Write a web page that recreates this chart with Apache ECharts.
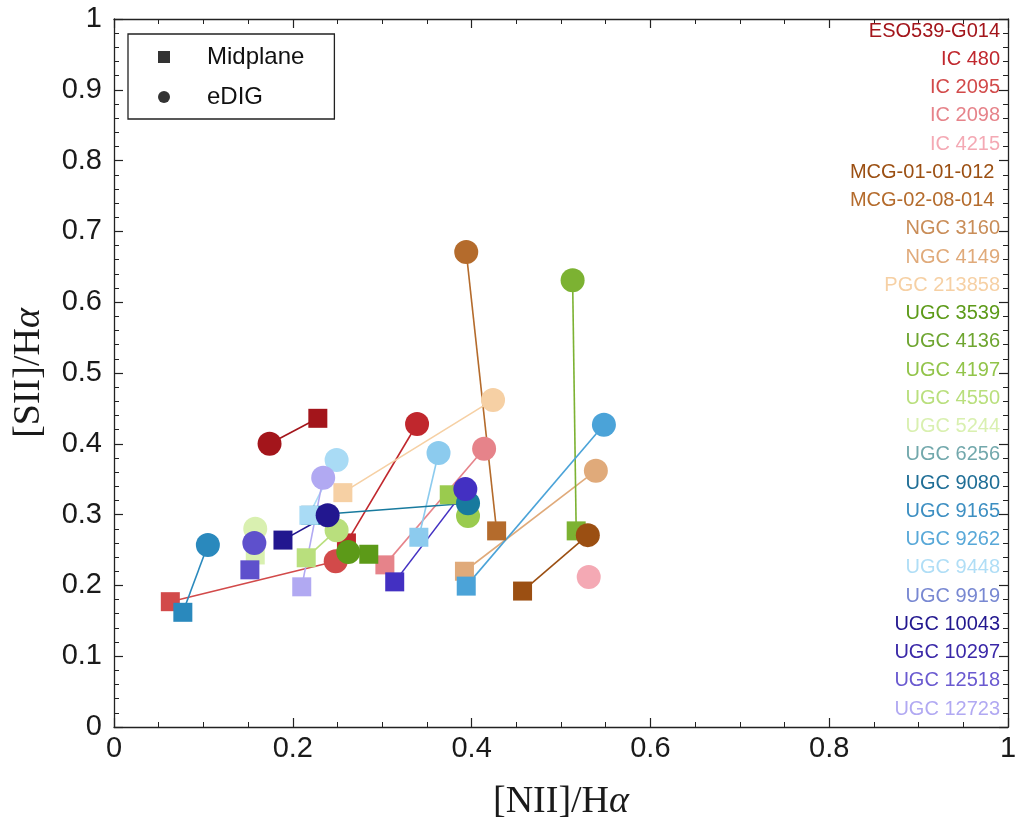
<!DOCTYPE html>
<html>
<head>
<meta charset="utf-8">
<script src="https://cdn.jsdelivr.net/npm/echarts@6/dist/echarts.min.js"></script>
<style>
  html, body { margin: 0; padding: 0; background: #fff; }
  #chart { width: 1018px; height: 819px; }
</style>
</head>
<body>
<div id="chart"></div>
<script>
// Galaxy names, in the order they are listed down the right side
const galaxies = [
  'ESO539-G014', 'IC 480', 'IC 2095', 'IC 2098', 'IC 4215',
  'MCG-01-01-012 ', 'MCG-02-08-014 ', 'NGC 3160', 'NGC 4149', 'PGC 213858',
  'UGC 3539', 'UGC 4136', 'UGC 4197', 'UGC 4550', 'UGC 5244',
  'UGC 6256', 'UGC 9080', 'UGC 9165', 'UGC 9262', 'UGC 9448',
  'UGC 9919', 'UGC 10043', 'UGC 10297', 'UGC 12518', 'UGC 12723'
];

// Marker / line colour per galaxy
const colors = [
  '#a3151b', '#c0272d', '#d24a4a', '#e6838a', '#f4a9b4',
  '#9b4f12', '#b46b2c', '#c98d58', '#e0aa7a', '#f6d0a4',
  '#5c9a18', '#7cb232', '#9acb4e', '#b9df7d', '#d9f0b0',
  '#8ccbee', '#187a9e', '#2a89bd', '#4ba3d8', '#a9dbf5',
  '#7482d0', '#22178f', '#4330c2', '#5e50cc', '#b1a9f2'
];

// Colour of each name in the right-hand list
const labelColors = [
  '#a3151b', '#c0272d', '#d24a4a', '#e6838a', '#f4a9b4',
  '#9b4f12', '#b46b2c', '#c98d58', '#e0aa7a', '#f6d0a4',
  '#5c9a18', '#6ea530', '#92c44a', '#b9df7d', '#d9f0b0',
  '#72a8ac', '#1f6e96', '#3d8fc2', '#58a8d8', '#b0def6',
  '#7888d2', '#22178f', '#3a28a8', '#6a5ad0', '#b1a9f2'
];

// Midplane line ratios
const midNII = [0.228, 0.260, 0.063, 0.303, null, 0.457, 0.428, null, 0.392, 0.256,
                0.285, 0.517, 0.375, 0.215, 0.158, 0.341, 0.220, 0.077, 0.394, 0.218,
                null, 0.189, 0.314, 0.152, 0.210];
const midSII = [0.436, 0.260, 0.177, 0.229, null, 0.192, 0.277, null, 0.220, 0.331,
                0.244, 0.277, 0.328, 0.239, 0.243, 0.268, 0.299, 0.162, 0.199, 0.299,
                null, 0.264, 0.205, 0.222, 0.198];

// Extra-planar diffuse ionised gas line ratios
const digNII = [0.174, 0.339, 0.248, 0.414, 0.531, 0.530, 0.394, null, 0.539, 0.424,
                0.262, 0.513, 0.396, 0.249, 0.158, 0.363, 0.396, 0.105, 0.548, 0.249,
                null, 0.239, 0.393, 0.157, 0.234];
const digSII = [0.400, 0.428, 0.234, 0.393, 0.212, 0.271, 0.671, null, 0.362, 0.462,
                0.247, 0.631, 0.298, 0.278, 0.280, 0.387, 0.316, 0.257, 0.427, 0.377,
                null, 0.299, 0.336, 0.260, 0.352];

const xTicks = { min: 0, max: 1, interval: 0.2 };
const yTicks = { min: 0, max: 1, interval: 0.1 };

const chart = echarts.init(document.getElementById('chart'), null, { renderer: 'canvas' });

const sans = '"Liberation Sans", Arial, Helvetica, sans-serif';
const serif = '"Liberation Serif", "Times New Roman", serif';

const series = [];
// connecting lines (bottom layer)
galaxies.forEach((g, i) => {
  if (midNII[i] != null && digNII[i] != null) {
    series.push({
      type: 'line', name: g + ' link', silent: true, z: 2,
      showSymbol: false, symbol: 'none', animation: false,
      data: [[midNII[i], midSII[i]], [digNII[i], digSII[i]]],
      lineStyle: { color: colors[i], width: 1.6 }
    });
  }
});
// midplane squares
galaxies.forEach((g, i) => {
  if (midNII[i] != null) {
    series.push({
      type: 'scatter', name: g + ' mid', z: 3, symbol: 'rect', symbolSize: 19,
      animation: false,
      itemStyle: { color: colors[i], opacity: 1 },
      data: [[midNII[i], midSII[i]]]
    });
  }
});
// eDIG circles
galaxies.forEach((g, i) => {
  if (digNII[i] != null) {
    series.push({
      type: 'scatter', name: g + ' dig', z: 4, symbol: 'circle', symbolSize: 24,
      animation: false,
      itemStyle: { color: colors[i], opacity: 1 },
      data: [[digNII[i], digSII[i]]]
    });
  }
});
// key entries
series.push({ type: 'scatter', name: 'Midplane', symbol: 'rect', itemStyle: { color: '#000' }, data: [] });
series.push({ type: 'scatter', name: 'eDIG', symbol: 'circle', itemStyle: { color: '#000' }, data: [] });

const axisCommon = {
  type: 'value',
  axisLine: { show: true, onZero: false, lineStyle: { color: '#222', width: 1.3 } },
  axisTick: { show: true, inside: true, length: 9, lineStyle: { color: '#222', width: 1.2 } },
  minorTick: { show: true, length: 5, lineStyle: { color: '#222', width: 1 } },
  splitLine: { show: false },
  minorSplitLine: { show: false }
};

const titleRich = {
  r: { fontFamily: serif, fontSize: 38, color: '#1a1a1a' },
  i: { fontFamily: serif, fontSize: 38, fontStyle: 'italic', color: '#1a1a1a' }
};

// name list on the right edge, right aligned
const top0 = 32, step = 28.25;
const graphic = galaxies.map((g, i) => ({
  type: 'text',
  right: 18,
  top: top0 + i * step - 11,
  z: 10,
  style: {
    text: g,
    fill: labelColors[i],
    font: '20px ' + sans,
    textAlign: 'right'
  }
}));

chart.setOption({
  backgroundColor: '#fff',
  animation: false,
  grid: { left: 114, right: 10, top: 19, bottom: 92, containLabel: false, outerBoundsMode: 'none' },
  legend: {
    data: ['Midplane', 'eDIG'],
    orient: 'vertical',
    left: 128, top: 34,
    padding: [11, 30, 10, 30],
    itemWidth: 12, itemHeight: 12, itemGap: 16,
    borderColor: '#222', borderWidth: 1.3,
    selectedMode: false,
    textStyle: { fontFamily: sans, fontSize: 24, color: '#111', padding: [0, 0, 0, 32] }
  },
  xAxis: [
    Object.assign({}, axisCommon, {
      position: 'bottom', min: xTicks.min, max: xTicks.max, interval: xTicks.interval,
      minorTick: Object.assign({}, axisCommon.minorTick, { splitNumber: 4 }),
      axisLabel: { fontFamily: sans, fontSize: 29, color: '#1a1a1a', margin: 7 },
      name: '{r|[NII]/H}{i|α}', nameLocation: 'middle', nameGap: 56,
      nameTextStyle: { rich: titleRich }
    }),
    Object.assign({}, axisCommon, {
      position: 'top', min: xTicks.min, max: xTicks.max, interval: xTicks.interval,
      minorTick: Object.assign({}, axisCommon.minorTick, { splitNumber: 4 }),
      axisLabel: { show: false }
    })
  ],
  yAxis: [
    Object.assign({}, axisCommon, {
      position: 'left', min: yTicks.min, max: yTicks.max, interval: yTicks.interval,
      minorTick: Object.assign({}, axisCommon.minorTick, { splitNumber: 5 }),
      axisLabel: { fontFamily: sans, fontSize: 29, color: '#1a1a1a', margin: 12 },
      name: '{r|[SII]/H}{i|α}', nameLocation: 'middle', nameGap: 66, nameRotate: 90,
      nameTextStyle: { rich: titleRich }
    }),
    Object.assign({}, axisCommon, {
      position: 'right', min: yTicks.min, max: yTicks.max, interval: yTicks.interval,
      minorTick: Object.assign({}, axisCommon.minorTick, { splitNumber: 5 }),
      axisLabel: { show: false }
    })
  ],
  graphic: graphic,
  series: series
});
</script>
</body>
</html>
